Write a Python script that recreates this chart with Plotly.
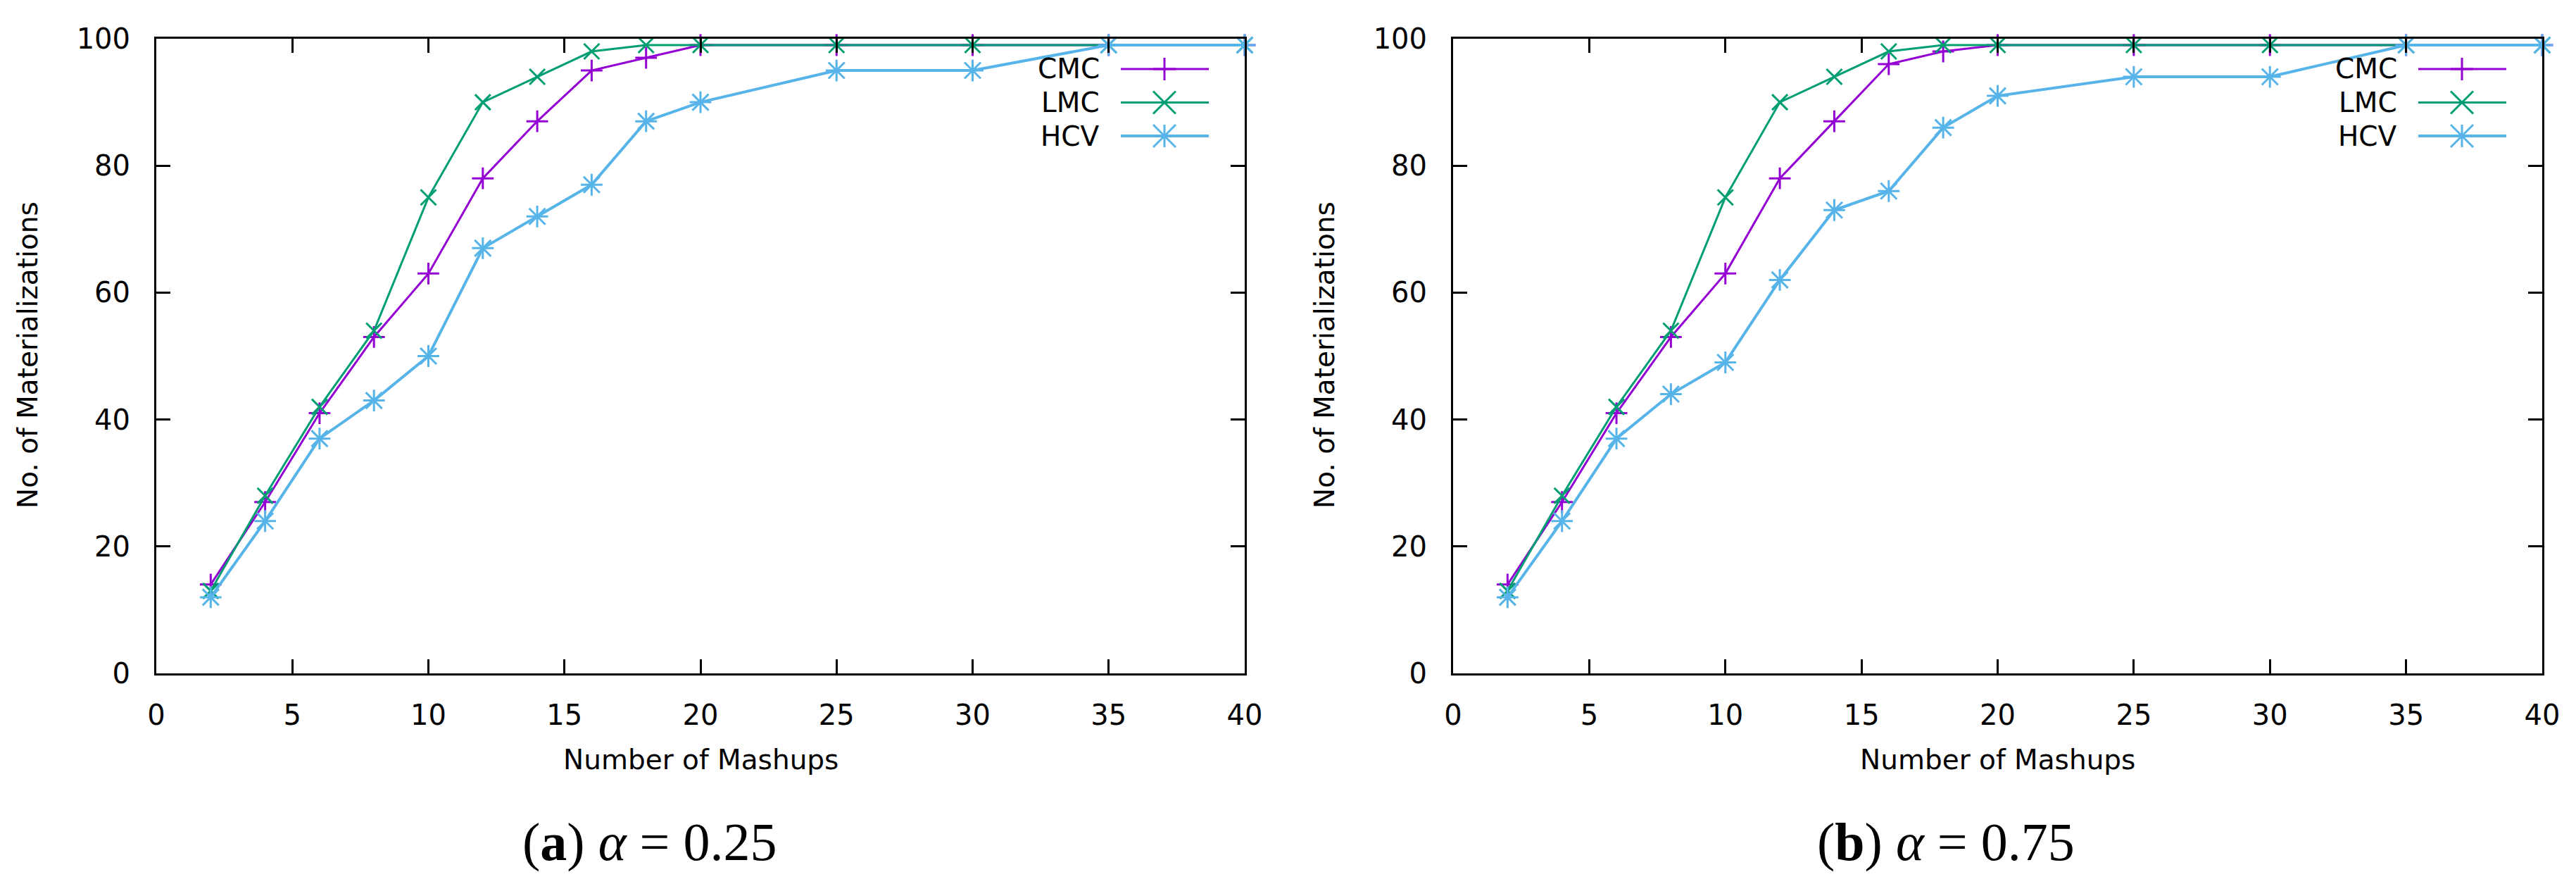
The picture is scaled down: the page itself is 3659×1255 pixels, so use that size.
import plotly.graph_objects as go

mashups = [2, 4, 6, 8, 10, 12, 14, 16, 18, 20, 25, 30, 35, 40]

# alpha = 0.25
cmc_a = [14, 27, 41, 53, 63, 78, 87, 95, 97, 99, 99, 99, 99, 99]
lmc_a = [13, 28, 42, 54, 75, 90, 94, 98, 99, 99, 99, 99, 99, 99]
hcv_a = [12, 24, 37, 43, 50, 67, 72, 77, 87, 90, 95, 95, 99, 99]

# alpha = 0.75
cmc_b = [14, 27, 41, 53, 63, 78, 87, 96, 98, 99, 99, 99, 99, 99]
lmc_b = [13, 28, 42, 54, 75, 90, 94, 98, 99, 99, 99, 99, 99, 99]
hcv_b = [12, 24, 37, 44, 49, 62, 73, 76, 86, 91, 94, 94, 99, 99]

series_names = ["CMC", "LMC", "HCV"]
captions = ["(<b>a</b>) <i>α</i> = 0.25", "(<b>b</b>) <i>α</i> = 0.75"]

COLORS = {"CMC": "#9400D3", "LMC": "#009E73", "HCV": "#56B4E9"}
WIDTHS = {"CMC": 3, "LMC": 3, "HCV": 4}

# page body has an 8px margin, so the figure is shrunk and shifted to fit
PAGE_W, PAGE_H, BODY = 3659, 1255, 8
W, H = PAGE_W - 2 * BODY, PAGE_H - 2 * BODY
PLOT_TOP, PLOT_BOTTOM = 55, 956
PANELS = [(222, 1768), (2064, 3611)]
FONT = "DejaVu Sans"


def fx(px):
    return (px - BODY) / W


def fy(py):
    return 1 - (py - BODY) / H


def add_series(fig, axis_idx, name, values):
    xa = "x" if axis_idx == 1 else f"x{axis_idx}"
    ya = "y" if axis_idx == 1 else f"y{axis_idx}"
    color = COLORS[name]
    first = "cross-thin" if name != "LMC" else "x-thin"
    fig.add_trace(go.Scatter(
        x=mashups, y=values, name=name, mode="lines+markers",
        xaxis=xa, yaxis=ya, cliponaxis=False, showlegend=False,
        line=dict(color=color, width=WIDTHS[name]),
        marker=dict(symbol=first, size=22, color=color,
                    line=dict(color=color, width=3)),
    ))
    if name == "HCV":
        # gnuplot asterisk = plus + cross
        fig.add_trace(go.Scatter(
            x=mashups, y=values, mode="markers", xaxis=xa, yaxis=ya,
            cliponaxis=False, showlegend=False, hoverinfo="skip",
            marker=dict(symbol="x-thin", size=23, color=color,
                        line=dict(color=color, width=3)),
        ))


def seg(x0, y0, x1, y1, color, width):
    return dict(type="line", xref="paper", yref="paper",
                x0=fx(x0), y0=fy(y0), x1=fx(x1), y1=fy(y1),
                line=dict(color=color, width=width))


def legend_shapes(right):
    shapes, annos = [], []
    for i, name in enumerate(series_names):
        color = COLORS[name]
        y = PLOT_TOP + 43 + 47.5 * i
        cx = right - 114
        shapes.append(seg(right - 176, y, right - 51, y, color, WIDTHS[name]))
        if name in ("CMC", "HCV"):
            shapes.append(seg(cx, y - 16, cx, y + 16, color, 3))
            shapes.append(seg(cx - 16, y, cx + 16, y, color, 3))
        if name in ("LMC", "HCV"):
            shapes.append(seg(cx - 16, y - 16, cx + 16, y + 16, color, 3))
            shapes.append(seg(cx - 16, y + 16, cx + 16, y - 16, color, 3))
        annos.append(dict(text=name, xref="paper", yref="paper",
                          x=fx(right - 204), y=fy(y), xanchor="right",
                          yanchor="middle", showarrow=False,
                          font=dict(family=FONT, size=39, color="black")))
    return shapes, annos


fig = go.Figure()
panel_data = [(cmc_a, lmc_a, hcv_a), (cmc_b, lmc_b, hcv_b)]
for idx, data in enumerate(panel_data, start=1):
    for name, vals in zip(series_names, data):
        add_series(fig, idx, name, vals)

axis_style = dict(
    showline=True, linecolor="black", linewidth=3, mirror="ticks",
    ticks="inside", ticklen=20, tickwidth=3, tickcolor="black",
    showgrid=False, zeroline=False, automargin=False,
    tickfont=dict(family=FONT, size=40, color="black"),
)

layout = dict(
    template="none",
    width=W, height=H, margin=dict(l=0, r=0, t=0, b=0, pad=0),
    plot_bgcolor="white", paper_bgcolor="white", showlegend=False,
)

shapes, annotations = [], []
for idx, (left, right) in enumerate(PANELS, start=1):
    suffix = "" if idx == 1 else str(idx)
    layout[f"xaxis{suffix}"] = dict(
        axis_style, domain=[fx(left), fx(right)], range=[0, 40],
        tick0=0, dtick=5, anchor=f"y{suffix}", ticklabelstandoff=22,
    )
    layout[f"yaxis{suffix}"] = dict(
        axis_style, domain=[fy(PLOT_BOTTOM), fy(PLOT_TOP)], range=[0, 100],
        tick0=0, dtick=20, anchor=f"x{suffix}", ticklabelstandoff=26,
    )
    s, a = legend_shapes(right)
    shapes += s
    annotations += a
    annotations.append(dict(
        text="Number of Mashups", xref="paper", yref="paper",
        x=fx((left + right) / 2), y=fy(1078), xanchor="center",
        yanchor="middle", showarrow=False,
        font=dict(family=FONT, size=39, color="black"),
    ))
    annotations.append(dict(
        text="No. of Materializations", xref="paper", yref="paper",
        x=fx(left - 182), y=fy(504), xanchor="center", yanchor="middle",
        textangle=-90, showarrow=False,
        font=dict(family=FONT, size=39, color="black"),
    ))
    annotations.append(dict(
        text=captions[idx - 1], xref="paper", yref="paper",
        x=fx(left + 700), y=fy(1195), xanchor="center", yanchor="middle",
        showarrow=False,
        font=dict(family="Liberation Serif", size=76, color="black"),
    ))

layout["shapes"] = shapes
layout["annotations"] = annotations
fig.update_layout(**layout)

fig.write_html("out.html")
